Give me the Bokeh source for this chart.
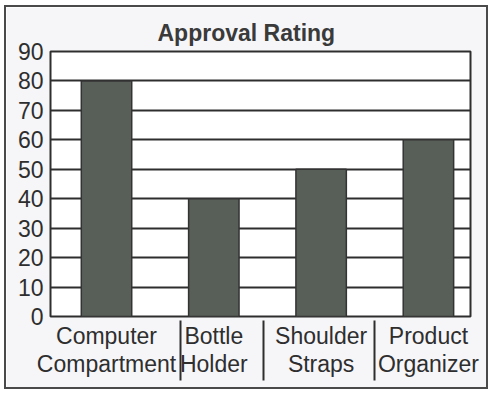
from bokeh.plotting import figure
from bokeh.models import Range1d, FixedTicker, ColumnDataSource, LinearAxis
from bokeh.embed import file_html
from bokeh.resources import INLINE

# Survey results
categories = ["Computer\nCompartment", "Bottle\nHolder", "Shoulder\nStraps", "Product\nOrganizer"]
ratings = [80, 40, 50, 60]
y_ticks = [0, 10, 20, 30, 40, 50, 60, 70, 80, 90]

# Where the vertical dividers between category names sit (x units)
SEPARATORS = [1.69, 2.46, 3.50]
FONT = "Liberation Sans"
INK = "#2e2e2e"

positions = list(range(1, len(categories) + 1))
source = ColumnDataSource(dict(x=positions, rating=ratings))

p = figure(
    width=484, height=384,
    output_backend="svg", toolbar_location=None,
    x_range=Range1d(0.478, 4.392), y_range=Range1d(0, 90),
    min_border_left=44, min_border_right=20, min_border_top=44, min_border_bottom=75,
    background_fill_color="white", border_fill_color="#f6f6f9",
    outline_line_color=INK, outline_line_width=2,
)
p.styles = {"margin-left": "4px", "margin-top": "5px", "border": "2px solid #4a4a4a"}

p.title.text = "Approval Rating"
p.title.text_font = FONT
p.title.text_font_size = "23px"
p.title.text_font_style = "bold"
p.title.text_color = "#3a3a3a"
p.title.align = "left"
p.title.offset = 107
p.title.standoff = 12

p.vbar(x="x", top="rating", width=0.47, source=source,
       fill_color="#585f59", line_color="#333333", line_width=1.5)

# y axis
p.yaxis.ticker = FixedTicker(ticks=y_ticks)
p.yaxis.major_tick_line_color = None
p.yaxis.major_tick_out = 0
p.yaxis.major_tick_in = 0
p.yaxis.minor_tick_line_color = None
p.yaxis.axis_line_color = None
p.yaxis.major_label_text_font = FONT
p.yaxis.major_label_text_font_size = "23px"
p.yaxis.major_label_text_color = INK
p.yaxis.major_label_standoff = 7

# x axis: category names under the bars
p.xaxis.ticker = FixedTicker(ticks=positions, minor_ticks=[])
p.xaxis.major_label_overrides = {pos: name for pos, name in zip(positions, categories)}
p.xaxis.major_tick_line_color = None
p.xaxis.major_tick_out = 0
p.xaxis.major_tick_in = 0
p.xaxis.minor_tick_line_color = None
p.xaxis.axis_line_color = None
p.xaxis.major_label_text_font = FONT
p.xaxis.major_label_text_font_size = "23px"
p.xaxis.major_label_text_line_height = 1.1
p.xaxis.major_label_text_color = INK
p.xaxis.major_label_standoff = 6

# second axis below: its inward ticks form the dividers between category names
dividers = LinearAxis(
    ticker=FixedTicker(ticks=SEPARATORS, minor_ticks=[]),
    major_label_overrides={s: "" for s in SEPARATORS},
    major_label_text_color=None, major_label_standoff=0,
    axis_line_color=None, minor_tick_line_color=None,
    major_tick_in=60, major_tick_out=0,
    major_tick_line_color=INK, major_tick_line_width=2,
)
p.add_layout(dividers, "below")

# grid
p.xgrid.grid_line_color = None
p.ygrid.ticker = FixedTicker(ticks=y_ticks)
p.ygrid.grid_line_color = INK
p.ygrid.grid_line_width = 2

open("out.html", "w").write(file_html(p, INLINE))
